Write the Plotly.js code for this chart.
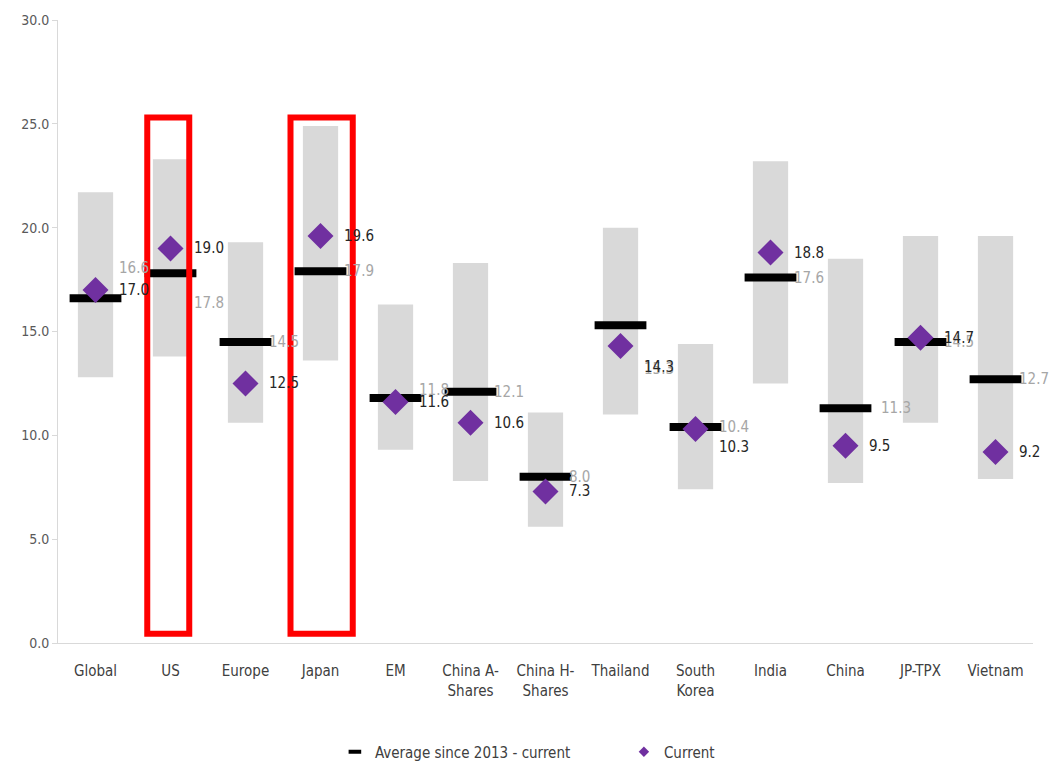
<!DOCTYPE html>
<html>
<head>
<meta charset="utf-8">
<script src="https://cdn.plot.ly/plotly-3.0.1.min.js"></script>
<style>
  html, body { margin: 0; padding: 0; background: #ffffff; }
  #chart { width: 1050px; height: 765px; }
</style>
</head>
<body>
<div id="chart"></div>
<script>
// ---- data ----
const categories = ["Global", "US", "Europe", "Japan", "EM", "China A-<br>Shares", "China H-<br>Shares", "Thailand", "South<br>Korea", "India", "China", "JP-TPX", "Vietnam"];
const rangeLow   = [12.8, 13.8, 10.6, 13.6, 9.3, 7.8, 5.6, 11.0, 7.4, 12.5, 7.7, 10.6, 7.9];
const rangeHigh  = [21.7, 23.3, 19.3, 24.9, 16.3, 18.3, 11.1, 20.0, 14.4, 23.2, 18.5, 19.6, 19.6];
const average    = [16.6, 17.8, 14.5, 17.9, 11.8, 12.1, 8.0, 15.3, 10.4, 17.6, 11.3, 14.5, 12.7];
const current    = [17.0, 19.0, 12.5, 19.6, 11.6, 10.6, 7.3, 14.3, 10.3, 18.8, 9.5, 14.7, 9.2];
const yTicks     = [0, 5, 10, 15, 20, 25, 30];
const highlighted = ["US", "Japan"];

// ---- styling ----
const FONT = "DejaVu Sans Condensed, DejaVu Sans, sans-serif";
const xIdx = categories.map((c, i) => i);

// label placement tweaks (pixels), mimicking the reference's label layout
const avgLabelShift = { "Global": -30, "US": 30, "EM": -8, "Thailand": 44 };
const curLabelShift = { "Thailand": 21, "South<br>Korea": 18 };
const avgLabelX = { "China": 33 };

const rangeTrace = {
  type: "bar",
  x: xIdx,
  base: rangeLow,
  y: rangeHigh.map((h, i) => h - rangeLow[i]),
  width: 0.47,
  marker: { color: "#d9d9d9" },
  showlegend: false,
  hoverinfo: "skip"
};

const avgTrace = {
  type: "scatter",
  mode: "markers",
  name: "Average since 2013 - current",
  x: xIdx,
  y: average,
  showlegend: false,
  marker: { symbol: "line-ew", size: 37, color: "#000000", line: { width: 8, color: "#000000" } }
};

const curTrace = {
  type: "scatter",
  mode: "markers",
  name: "Current",
  x: xIdx,
  y: current,
  showlegend: false,
  marker: { symbol: "diamond", size: 20, color: "#7030a0", line: { width: 0 } }
};

// legend-only entries with small symbols as in the reference
const avgLegend = {
  type: "scatter", mode: "markers", name: "Average since 2013 - current",
  x: [null], y: [null],
  marker: { symbol: "line-ew", size: 9, color: "#000000", line: { width: 4, color: "#000000" } }
};
const curLegend = {
  type: "scatter", mode: "markers", name: "Current",
  x: [null], y: [null],
  marker: { symbol: "diamond", size: 8, color: "#7030a0", line: { width: 0 } }
};

const annotations = [];
average.forEach((v, i) => annotations.push({
  x: i, y: v, xref: "x", yref: "y", text: v.toFixed(1), showarrow: false,
  xanchor: "left", yanchor: "middle",
  xshift: avgLabelX[categories[i]] || 21,
  yshift: -(avgLabelShift[categories[i]] || 0),
  font: { family: FONT, size: 15, color: "#a6a6a6" }
}));
current.forEach((v, i) => annotations.push({
  x: i, y: v, xref: "x", yref: "y", text: v.toFixed(1), showarrow: false,
  xanchor: "left", yanchor: "middle", xshift: 21,
  yshift: -(curLabelShift[categories[i]] || 0),
  font: { family: FONT, size: 15, color: "#262626" }
}));

const boxHalf = { "US": [0.31, 0.25], "Japan": [0.40, 0.43] };
const shapes = highlighted.map(name => {
  const i = categories.indexOf(name);
  return {
    type: "rect", xref: "x", yref: "y",
    x0: i - boxHalf[name][0], x1: i + boxHalf[name][1], y0: 0.45, y1: 25.3,
    line: { color: "#ff0000", width: 6 }, fillcolor: "rgba(0,0,0,0)", layer: "above"
  };
});

const layout = {
  width: 1050, height: 765,
  margin: { l: 58, r: 17, t: 20, b: 122 },
  paper_bgcolor: "#ffffff", plot_bgcolor: "#ffffff",
  font: { family: FONT, size: 14, color: "#404040" },
  showlegend: true,
  legend: {
    orientation: "h", x: 0.284, xanchor: "left",
    yref: "container", y: 0.017, yanchor: "middle",
    font: { family: FONT, size: 15, color: "#404040" },
    itemsizing: "trace", itemwidth: 30, entrywidth: 244,
    traceorder: "normal", bgcolor: "rgba(0,0,0,0)"
  },
  xaxis: {
    range: [-0.5, categories.length - 0.5],
    tickmode: "array", tickvals: xIdx, ticktext: categories,
    showgrid: false, zeroline: false,
    showline: true, linecolor: "#d9d9d9", linewidth: 1,
    ticks: "", ticklabelstandoff: 14,
    tickfont: { family: FONT, size: 15, color: "#404040" }
  },
  yaxis: {
    range: [0, 30], tickmode: "array", tickvals: yTicks,
    ticktext: yTicks.map(v => v.toFixed(1)),
    showgrid: false, zeroline: false,
    showline: true, linecolor: "#d9d9d9", linewidth: 1,
    ticks: "outside", ticklen: 5, tickcolor: "#d9d9d9",
    tickfont: { family: FONT, size: 14, color: "#595959" }
  },
  annotations: annotations,
  shapes: shapes
};

Plotly.newPlot("chart", [rangeTrace, avgTrace, curTrace, avgLegend, curLegend], layout, { displayModeBar: false, staticPlot: true });
</script>
</body>
</html>
